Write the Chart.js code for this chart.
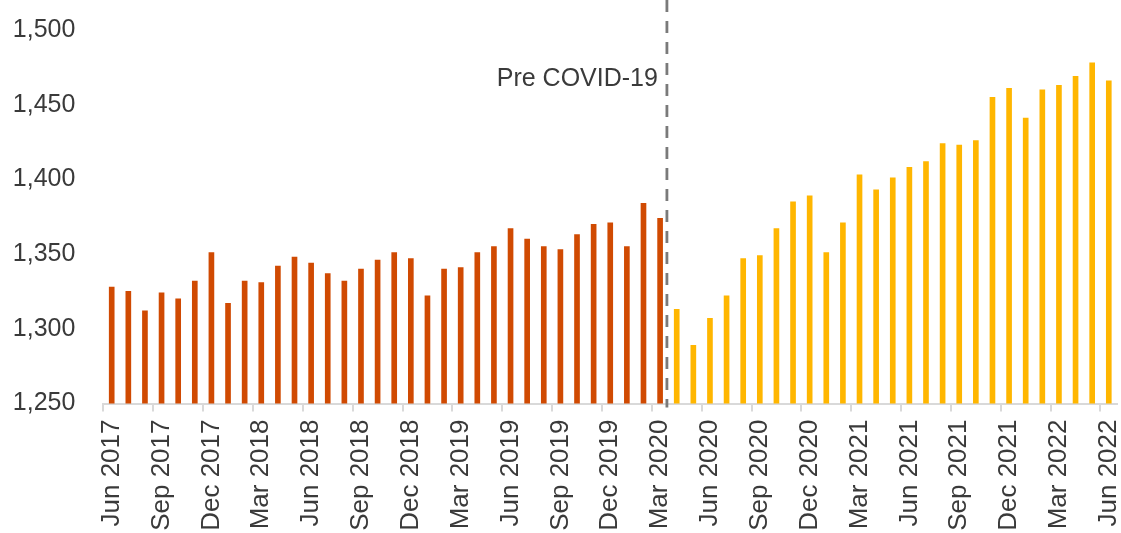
<!DOCTYPE html>
<html><head><meta charset="utf-8">
<script src="https://cdn.jsdelivr.net/npm/chart.js@4.4.0/dist/chart.umd.min.js"></script>
<style>html,body{margin:0;padding:0;background:#fff;overflow:hidden}#wrap{width:1121px;height:533px;position:relative}</style>
</head><body><div id="wrap"><canvas id="c" width="1121" height="533"></canvas></div>
<script>
const months = [
  'Jun 2017','Jul 2017','Aug 2017','Sep 2017','Oct 2017','Nov 2017','Dec 2017',
  'Jan 2018','Feb 2018','Mar 2018','Apr 2018','May 2018','Jun 2018','Jul 2018','Aug 2018','Sep 2018','Oct 2018','Nov 2018','Dec 2018',
  'Jan 2019','Feb 2019','Mar 2019','Apr 2019','May 2019','Jun 2019','Jul 2019','Aug 2019','Sep 2019','Oct 2019','Nov 2019','Dec 2019',
  'Jan 2020','Feb 2020','Mar 2020','Apr 2020','May 2020','Jun 2020','Jul 2020','Aug 2020','Sep 2020','Oct 2020','Nov 2020','Dec 2020',
  'Jan 2021','Feb 2021','Mar 2021','Apr 2021','May 2021','Jun 2021','Jul 2021','Aug 2021','Sep 2021','Oct 2021','Nov 2021','Dec 2021',
  'Jan 2022','Feb 2022','Mar 2022','Apr 2022','May 2022','Jun 2022'
];
const preCovid = [1328,1325,1312,1324,1320,1332,1351,1317,1332,1331,1342,1348,1344,1337,1332,1340,1346,1351,1347,1322,1340,1341,1351,1355,1367,1360,1355,1353,1363,1370,1371,1355,1384,1374];
const postCovid = [1313,1289,1307,1322,1347,1349,1367,1385,1389,1351,1371,1403,1393,1401,1408,1412,1424,1423,1426,1455,1461,1441,1460,1463,1469,1478,1466];
const yTicks = [1250,1300,1350,1400,1450,1500];
const annotationText = 'Pre COVID-19';
const annotationValue = 1467;

const preData = months.map((m,i)=> i < preCovid.length ? preCovid[i] : null);
const postData = months.map((m,i)=> i >= preCovid.length ? postCovid[i - preCovid.length] : null);

const FONT_FAMILY = '"Liberation Sans", Arial, sans-serif';
const TEXT = '#3a3a3a';

const covidLine = {
  id:'covidLine',
  afterDatasetsDraw(chart){
    const {ctx, scales:{x,y}, chartArea} = chart;
    const px = (x.getPixelForValue(preCovid.length-1) + x.getPixelForValue(preCovid.length))/2 - 1.5;
    ctx.save();
    ctx.strokeStyle = '#7a7a7a'; ctx.lineWidth = 2.8; ctx.setLineDash([12,9]);
    ctx.beginPath(); ctx.moveTo(px, 0); ctx.lineTo(px, chartArea.bottom + 4); ctx.stroke();
    ctx.setLineDash([]);
    ctx.fillStyle = TEXT; ctx.font = '25px ' + FONT_FAMILY;
    ctx.textAlign = 'right'; ctx.textBaseline = 'middle';
    ctx.fillText(annotationText, px - 9, y.getPixelForValue(annotationValue));
    ctx.restore();
  }
};

new Chart(document.getElementById('c'), {
  type:'bar',
  data:{
    labels: months,
    datasets:[
      {data: preData, backgroundColor:'#D04A02', barThickness:5, grouped:false},
      {data: postData, backgroundColor:'#FFB600', barThickness:5, grouped:false}
    ]
  },
  options:{
    responsive:false, animation:false, devicePixelRatio:1,
    layout:{padding:{top:30, right:3.9, left:0, bottom:0}},
    plugins:{legend:{display:false}, tooltip:{enabled:false}},
    scales:{
      x:{
        offset:true,
        grid:{offset:true, drawOnChartArea:false, drawTicks:true, tickLength:8, lineWidth:2,
          color:(ctx)=> (ctx.index % 3 === 0 && ctx.index < months.length) ? '#d9d9d9' : 'rgba(0,0,0,0)'},
        border:{display:true, color:'#d9d9d9', width:2},
        ticks:{autoSkip:false, maxRotation:90, minRotation:90, padding:8, color:TEXT,
          font:{family:FONT_FAMILY, size:26},
          callback:(v,i)=> i % 3 === 0 ? months[i] : ''},
        afterFit:(s)=>{ s.height = 129.5; s.paddingLeft = 0; s.paddingRight = 0; }
      },
      y:{
        min:yTicks[0], max:yTicks[yTicks.length-1],
        afterBuildTicks:(s)=>{ s.ticks = yTicks.map(v=>({value:v})); },
        ticks:{padding:28, color:TEXT, font:{family:FONT_FAMILY, size:25}, callback:(v)=> v.toLocaleString('en-US')},
        grid:{display:false, drawTicks:false},
        border:{display:false},
        afterFit:(s)=>{ s.width = 103.4; s.paddingTop = 0; s.paddingBottom = 0; }
      }
    }
  },
  plugins:[covidLine]
});
</script></body></html>
